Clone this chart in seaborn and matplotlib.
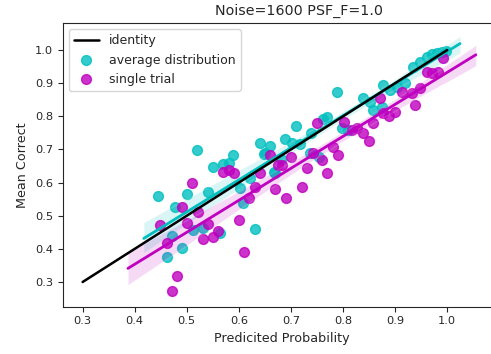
"""
Calibration scatter: predicted probability vs mean correct, with regression fits.
"""

import matplotlib
matplotlib.use("Agg")
import matplotlib.pyplot as plt
import seaborn as sns


# --- average distribution (cyan) ---
AVG_X = [0.445, 0.500, 0.541, 0.519, 0.550, 0.569, 0.581, 0.589, 0.477, 0.602,
         0.471, 0.491, 0.462, 0.512, 0.531, 0.564, 0.631, 0.608, 0.621, 0.669,
         0.648, 0.710, 0.640, 0.660, 0.688, 0.702, 0.717, 0.738, 0.650, 0.681,
         0.667, 0.736, 0.754, 0.798, 0.809, 0.788, 0.769, 0.761, 0.838, 0.852,
         0.877, 0.890, 0.903, 0.919, 0.857, 0.875, 0.934, 0.948, 0.961, 0.971,
         0.981, 0.990, 0.997]
AVG_Y = [0.560, 0.566, 0.572, 0.698, 0.647, 0.656, 0.659, 0.683, 0.526, 0.584,
         0.439, 0.403, 0.375, 0.457, 0.463, 0.448, 0.460, 0.538, 0.614, 0.629,
         0.686, 0.771, 0.719, 0.710, 0.732, 0.719, 0.716, 0.750, 0.689, 0.671,
         0.632, 0.689, 0.677, 0.765, 0.759, 0.873, 0.798, 0.792, 0.855, 0.843,
         0.895, 0.879, 0.889, 0.901, 0.819, 0.828, 0.949, 0.964, 0.979, 0.988,
         0.991, 0.994, 0.997]

# --- single trial (magenta) ---
SINGLE_X = [0.491, 0.510, 0.521, 0.448, 0.462, 0.481, 0.471, 0.500, 0.541, 0.531,
            0.550, 0.560, 0.600, 0.610, 0.619, 0.631, 0.669, 0.640, 0.660, 0.675,
            0.569, 0.581, 0.590, 0.750, 0.700, 0.683, 0.731, 0.769, 0.759, 0.790,
            0.781, 0.742, 0.721, 0.690, 0.802, 0.817, 0.827, 0.838, 0.850, 0.857,
            0.877, 0.888, 0.900, 0.871, 0.913, 0.932, 0.948, 0.938, 0.961, 0.971,
            0.982, 0.992]
SINGLE_Y = [0.526, 0.599, 0.511, 0.472, 0.418, 0.318, 0.273, 0.478, 0.475, 0.430,
            0.436, 0.454, 0.487, 0.391, 0.553, 0.587, 0.581, 0.629, 0.683, 0.653,
            0.632, 0.638, 0.629, 0.780, 0.677, 0.653, 0.644, 0.629, 0.668, 0.683,
            0.707, 0.689, 0.587, 0.553, 0.783, 0.759, 0.765, 0.750, 0.726, 0.780,
            0.810, 0.801, 0.813, 0.855, 0.873, 0.870, 0.886, 0.834, 0.934, 0.931,
            0.934, 0.976]

IDENTITY = [0.3, 1.0]
TICKS = [0.3, 0.4, 0.5, 0.6, 0.7, 0.8, 0.9, 1.0]


def main() -> None:
    sns.set_style("ticks")
    plt.rcParams["font.family"] = ["DejaVu Sans"]

    fig = plt.figure(figsize=(4.91, 3.54), dpi=100)
    ax = fig.add_axes([0.1277, 0.1336, 0.8906, 0.8014])

    sns.regplot(x=AVG_X, y=AVG_Y, color="c", truncate=False, seed=0, ax=ax,
                label="average distribution",
                scatter_kws={"s": 50}, line_kws={"lw": 2})
    # let the next fit extend past this line's ends, like old seaborn did
    ax.lines[-1].sticky_edges.x[:] = []

    sns.regplot(x=SINGLE_X, y=SINGLE_Y, color="m", truncate=False, seed=0, ax=ax,
                label="single trial",
                scatter_kws={"s": 50}, line_kws={"lw": 2})

    ax.plot(IDENTITY, IDENTITY, color="k", lw=1.8, label="identity")

    ax.set_xlim(0.2618, 1.1013)
    ax.set_ylim(0.2255, 1.0815)
    ax.set_xticks(TICKS)
    ax.set_yticks(TICKS)
    ax.tick_params(labelsize=8.2, length=3.5, width=0.8)

    ax.set_xlabel("Predicited Probability", fontsize=9.2)
    ax.set_ylabel("Mean Correct", fontsize=9.2)
    ax.set_title("Noise=1600 PSF_F=1.0", fontsize=10.3, x=0.54)

    handles, labels = ax.get_legend_handles_labels()
    order = [labels.index("identity"), labels.index("average distribution"),
             labels.index("single trial")]
    ax.legend([handles[i] for i in order], [labels[i] for i in order],
              loc="upper left", fontsize=9)

    fig.savefig("out.png", dpi=100)
    plt.close(fig)


if __name__ == "__main__":
    main()
